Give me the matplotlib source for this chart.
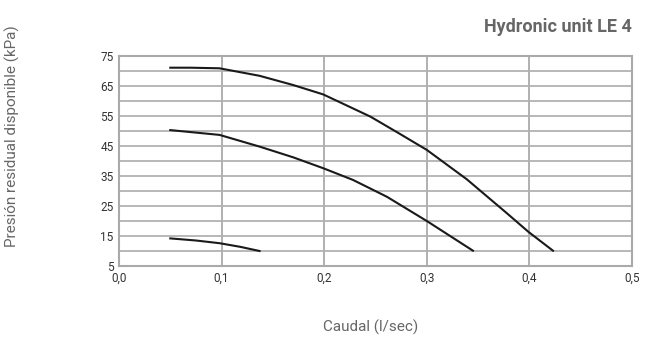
import matplotlib.pyplot as plt
import numpy as np

# curve readings (flow l/s, pressure kPa)
flow_high = [0.05, 0.07, 0.098, 0.137, 0.17, 0.199, 0.245, 0.271, 0.30, 0.339, 0.378, 0.399, 0.423]
press_high = [71.1, 71.1, 70.9, 68.4, 65.3, 62.2, 54.8, 49.6, 43.7, 33.9, 22.6, 16.4, 10.1]

flow_mid = [0.05, 0.098, 0.137, 0.17, 0.199, 0.228, 0.261, 0.30, 0.345]
press_mid = [50.3, 48.7, 44.8, 41.2, 37.6, 33.7, 28.1, 20.0, 10.1]

flow_low = [0.05, 0.075, 0.098, 0.118, 0.137]
press_low = [14.2, 13.5, 12.6, 11.4, 10.0]

x_ticks = [0.0, 0.1, 0.2, 0.3, 0.4, 0.5]
x_labels = ['0,0', '0,1', '0,2', '0,3', '0,4', '0,5']
y_ticks = [5, 15, 25, 35, 45, 55, 65, 75]
y_grid = list(range(5, 80, 5))

fig = plt.figure(figsize=(6.53, 3.43), dpi=100)
ax = fig.add_axes([119 / 653, 1 - 266 / 343, 513 / 653, 210 / 343])

ax.set_xlim(0, 0.5)
ax.set_ylim(5, 75)

for v in y_grid:
    ax.axhline(v, color='#b8b8b8', lw=1.4, zorder=1)
for v in x_ticks:
    ax.axvline(v, color='#b0b0b0', lw=1.4, zorder=1)

for fx, py in [(flow_high, press_high), (flow_mid, press_mid), (flow_low, press_low)]:
    ax.plot(fx, py, color='#1a1a1a', lw=1.5, zorder=3, solid_joinstyle='round')

for s in ax.spines.values():
    s.set_color('#aaaaaa')
    s.set_linewidth(1.5)

ax.set_xticks(x_ticks)
ax.set_xticklabels(x_labels)
ax.set_yticks(y_ticks)
ax.tick_params(length=0, labelsize=8.5, labelcolor='#333333', pad=4)
for lab in ax.get_xticklabels() + ax.get_yticklabels():
    lab.set_family('Roboto')

fig.text(12 / 653, 1 - 136 / 343, 'Presión residual disponible (kPa)', rotation=90,
         ha='center', va='center', fontsize=11, color='#666666', family='Roboto')
fig.text(371 / 653, 1 - 327 / 343, 'Caudal (l/sec)', ha='center', va='center',
         fontsize=11, color='#666666', family='Roboto')
fig.text(632 / 653, 1 - 27 / 343, 'Hydronic unit LE 4', ha='right', va='center',
         fontsize=13, color='#666666', fontweight='bold', family='Roboto')

fig.savefig('out.png', dpi=100)
